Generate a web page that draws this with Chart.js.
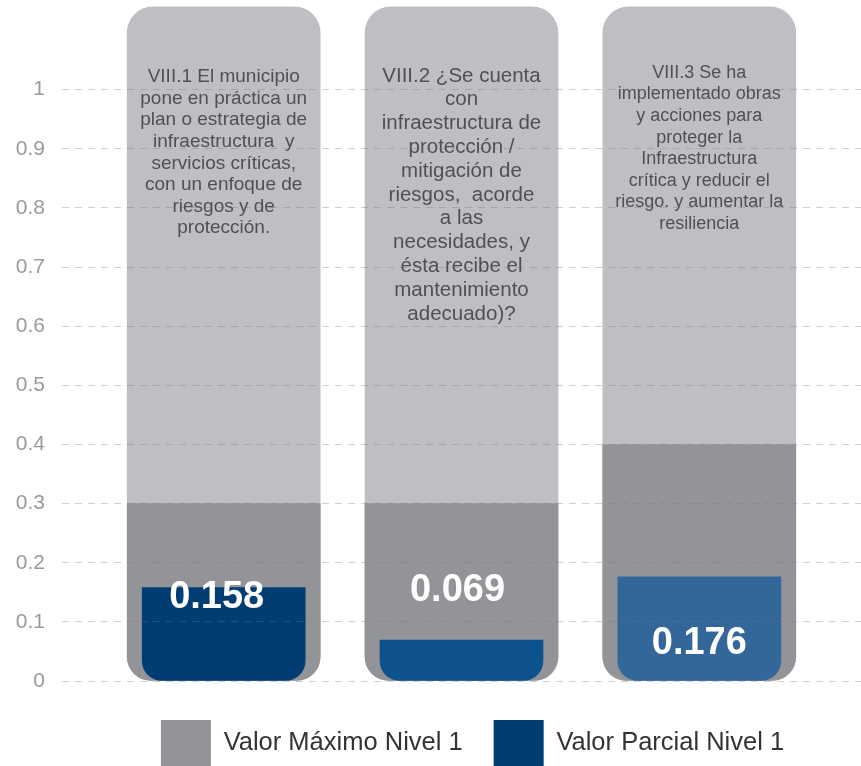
<!DOCTYPE html>
<html>
<head>
<meta charset="utf-8">
<script src="https://cdn.jsdelivr.net/npm/chart.js@4/dist/chart.umd.min.js"></script>
<style>
html,body{margin:0;padding:0;background:#ffffff;overflow:hidden;}
#wrap{width:861px;height:776px;}
</style>
</head>
<body>
<div id="wrap"><canvas id="c" width="861" height="776"></canvas></div>
<script>
// ---- data ----
const categories = [
  ['VIII.1 El municipio','pone en práctica un','plan o estrategia de','infraestructura  y','servicios críticas,','con un enfoque de','riesgos y de','protección.'],
  ['VIII.2 ¿Se cuenta','con','infraestructura de','protección /','mitigación de','riesgos,  acorde','a las','necesidades, y','ésta recibe el','mantenimiento','adecuado)?'],
  ['VIII.3 Se ha','implementado obras','y acciones para','proteger la','Infraestructura','crítica y reducir el','riesgo. y aumentar la','resiliencia']
];
const seriesNames = ['Valor Máximo Nivel 1', 'Valor Parcial Nivel 1'];
const maxValues = [0.3, 0.3, 0.4];
const partialValues = [0.158, 0.069, 0.176];
const trackValues = [1.14, 1.14, 1.14];
const yTickValues = [0, 0.1, 0.2, 0.3, 0.4, 0.5, 0.6, 0.7, 0.8, 0.9, 1];
const yTickLabels = ['0', '0.1', '0.2', '0.3', '0.4', '0.5', '0.6', '0.7', '0.8', '0.9', '1'];

// ---- styles ----
const trackColor = '#bebfc3';
const maxColor = '#939498';
const partialColors = ['#003d72', '#0d528c', '#336699'];
const legendPartialColor = '#003d72';
const catFontSizes = [19, 20.5, 18];
const catLineHeights = [21.6, 23.8, 21.6];
const catTopOffsets = [70, 69, 66];
const valueDx = [-7, -4, 0];
const valueDy = [10, -50, 67];

const pts = (arr) => arr.map((v, i) => ({ x: i, y: v }));

const textPlugin = {
  id: 'barText',
  afterLayout(chart) {
    if (chart.legend) { chart.legend.left += 11; chart.legend.right += 11; }
  },
  afterDraw(chart) {
    const ctx = chart.ctx;
    const trackMeta = chart.getDatasetMeta(2);
    const partMeta = chart.getDatasetMeta(0);
    ctx.save();
    ctx.textAlign = 'center';
    ctx.textBaseline = 'middle';
    categories.forEach((lines, i) => {
      const el = trackMeta.data[i];
      ctx.fillStyle = '#505054';
      ctx.font = catFontSizes[i] + 'px "Liberation Sans", Arial, sans-serif';
      lines.forEach((ln, j) => {
        ctx.fillText(ln, el.x, el.y + catTopOffsets[i] + j * catLineHeights[i]);
      });
    });
    partialValues.forEach((v, i) => {
      const el = partMeta.data[i];
      ctx.fillStyle = '#ffffff';
      ctx.font = 'bold 38px "Liberation Sans", Arial, sans-serif';
      ctx.fillText(v.toFixed(3), el.x + valueDx[i], el.y + valueDy[i]);
    });
    ctx.restore();
  }
};

new Chart(document.getElementById('c'), {
  type: 'bar',
  data: {
    datasets: [
      {
        label: seriesNames[1],
        data: pts(partialValues),
        backgroundColor: partialColors,
        barThickness: 163,
        grouped: false,
        order: 0,
        borderSkipped: false,
        borderRadius: { topLeft: 0, topRight: 0, bottomLeft: 20, bottomRight: 20 }
      },
      {
        label: seriesNames[0],
        data: pts(maxValues),
        backgroundColor: maxColor,
        barThickness: 193,
        grouped: false,
        order: 1,
        borderSkipped: false,
        borderRadius: { topLeft: 0, topRight: 0, bottomLeft: 24, bottomRight: 24 }
      },
      {
        label: 'track',
        data: pts(trackValues),
        backgroundColor: trackColor,
        barThickness: 193,
        grouped: false,
        order: 2,
        borderSkipped: false,
        borderRadius: { topLeft: 26, topRight: 26, bottomLeft: 24, bottomRight: 24 }
      }
    ]
  },
  options: {
    responsive: false,
    devicePixelRatio: 1,
    animation: false,
    layout: { padding: { top: 1, left: 0, right: 0, bottom: 0 } },
    plugins: {
      tooltip: { enabled: false },
      legend: {
        position: 'bottom',
        fullSize: false,
        align: 'center',
        labels: {
          boxWidth: 50,
          boxHeight: 46,
          padding: 31,
          color: '#333333',
          font: { family: '"Liberation Sans", Arial, sans-serif', size: 25.5 },
          filter: (item) => item.datasetIndex !== 2,
          sort: (a, b) => b.datasetIndex - a.datasetIndex,
          generateLabels: (chart) => {
            const items = Chart.defaults.plugins.legend.labels.generateLabels(chart);
            return items.map((it) => Object.assign(it, {
              fillStyle: it.datasetIndex === 0 ? legendPartialColor : (it.datasetIndex === 1 ? maxColor : trackColor),
              strokeStyle: 'rgba(0,0,0,0)',
              lineWidth: 0
            }));
          }
        }
      }
    },
    scales: {
      x: {
        type: 'linear',
        min: -0.68,
        max: 2.68,
        offset: false,
        display: true,
        ticks: { display: false },
        grid: { display: false, drawTicks: false },
        border: { display: false },
        afterFit: (s) => { s.height = 8; }
      },
      y: {
        min: 0,
        max: 1.15,
        afterBuildTicks: (s) => { s.ticks = yTickValues.map((v) => ({ value: v })); },
        afterFit: (s) => { s.width = 62; s.paddingTop = 0; s.paddingBottom = 0; },
        ticks: {
          padding: 17,
          color: '#9a9a9e',
          font: { family: '"Liberation Sans", Arial, sans-serif', size: 21 },
          callback: (v, i) => yTickLabels[i]
        },
        grid: {
          color: 'rgba(120,120,120,0.35)',
          lineWidth: 1,
          drawTicks: false,
          z: 1
        },
        border: { display: false, dash: [7, 6] }
      }
    }
  },
  plugins: [textPlugin]
});
</script>
</body>
</html>
